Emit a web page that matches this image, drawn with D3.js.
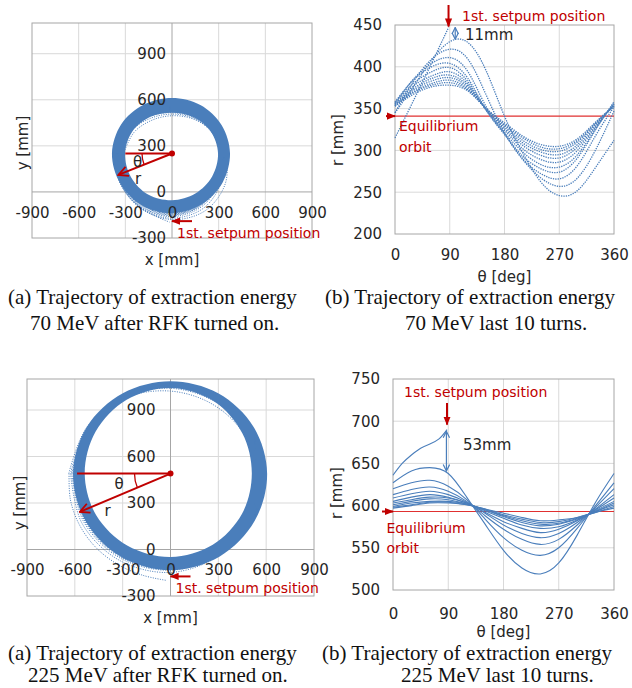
<!DOCTYPE html>
<html>
<head>
<meta charset="utf-8">
<script src="https://cdn.jsdelivr.net/npm/d3@7"></script>
<style>
  body { margin: 0; background: #fff; }
  svg { display: block; }
</style>
</head>
<body>
<svg id="chart" width="632" height="688"></svg>
<script>
// ---- values ----
const xyTicksX = [-900, -600, -300, 0, 300, 600, 900];
const xyTicksY = [-300, 0, 300, 600, 900];
const thetaTicks = [0, 90, 180, 270, 360];
const rTicks70 = [200, 250, 300, 350, 400, 450];
const rTicks225 = [500, 550, 600, 650, 700, 750];

// r [mm] of the last full turns, sampled every 30 deg (smallest turn first)
const thetaSamples = [0, 30, 60, 90, 120, 150, 180, 210, 240, 270, 300, 330, 360];
const turns70 = [
  [353, 367, 376, 378, 371, 350, 333, 317, 307, 305, 314, 334, 353],
  [353, 369, 378, 381, 372, 350, 331, 315, 304, 302, 312, 333, 353],
  [353, 370, 380, 384, 373, 350, 330, 312, 301, 299, 310, 332, 353],
  [354, 372, 383, 387, 375, 349, 328, 309, 298, 295, 307, 331, 354],
  [355, 374, 386, 390, 377, 349, 326, 306, 294, 291, 304, 329, 355],
  [355, 377, 389, 394, 379, 348, 324, 302, 289, 286, 300, 328, 355],
  [357, 380, 394, 399, 382, 348, 321, 298, 283, 280, 295, 326, 357],
  [358, 384, 400, 404, 386, 348, 319, 293, 278, 274, 291, 325, 358],
  [356, 385, 404, 411, 394, 352, 320, 290, 272, 266, 282, 318, 352],
  [345, 382, 409, 421, 409, 366, 321, 289, 267, 257, 267, 301, 347],
  [345, 376, 408, 430, 429, 395, 341, 297, 262, 246, 252, 280, 312]
];
// partial last turn up to the 1st septum: [theta, r]
const lastTurn70 = [[0, 315], [30, 359], [60, 404], [88, 447]];

const turns225 = [
  [597, 600, 603, 603, 601, 596, 591, 586, 582, 583, 586, 592, 597],
  [598, 601, 604, 604, 601, 596, 589, 584, 580, 581, 586, 592, 599],
  [599, 603, 605, 605, 602, 595, 588, 582, 578, 579, 585, 593, 601],
  [601, 605, 608, 607, 602, 595, 587, 580, 576, 578, 584, 593, 603],
  [603, 607, 610, 609, 603, 594, 585, 577, 573, 575, 583, 594, 605],
  [605, 610, 613, 610, 603, 592, 581, 573, 568, 572, 582, 595, 609],
  [609, 614, 617, 613, 604, 591, 577, 567, 562, 567, 580, 596, 613],
  [613, 619, 622, 617, 605, 588, 572, 560, 554, 560, 577, 598, 620],
  [620, 627, 630, 623, 607, 584, 562, 547, 541, 550, 573, 600, 627],
  [627, 641, 645, 638, 610, 578, 547, 526, 519, 532, 565, 604, 638]
];
const lastTurn225 = [[0, 636], [15, 650], [30, 660], [45, 668], [60, 673], [75, 679], [88, 690]];

const equilibrium70 = 341;
const equilibrium225 = 593;

// envelope of all turns after RFK on (theta from -x axis, turning downwards)
const ringAngles = [0, 30, 60, 90, 120, 150, 180, 210, 240, 270, 300, 330];
const ringOuter70 = [386, 386, 388, 388, 382, 376, 373, 369, 365, 362, 366, 378];
const ringInner70 = [302, 305, 308, 304, 300, 298, 296, 288, 274, 266, 276, 292];
const ringOuter225 = [611, 614, 620, 624, 618, 610, 606, 602, 598, 595, 598, 605];
const ringInner225 = [538, 538, 538, 538, 530, 518, 510, 520, 540, 552, 550, 542];
const orbitCentre70 = [0, 250];
const orbitCentre225 = [0, 490];
const rArrow70 = [22, 372];   // [theta deg, r mm]
const rArrow225 = [23.5, 620];

const captions = [
  { x: 8, y: 304, text: '(a) Trajectory of extraction energy' },
  { x: 30, y: 330, text: '70 MeV after RFK turned on.' },
  { x: 325, y: 304, text: '(b) Trajectory of extraction energy' },
  { x: 405, y: 330, text: '70 MeV last 10 turns.' },
  { x: 8, y: 660, text: '(a) Trajectory of extraction energy' },
  { x: 28, y: 682, text: '225 MeV after RFK turned on.' },
  { x: 322, y: 660, text: '(b) Trajectory of extraction energy' },
  { x: 401, y: 682, text: '225 MeV last 10 turns.' }
];

// ---- drawing ----
const BLUE = '#4a7ebb', RED = '#c00000', GRID = '#d9d9d9', FRAME = '#a6a6a6', INK = '#262626';
const SANS = "'DejaVu Sans', Verdana, sans-serif";
const SERIF = "'Liberation Serif', 'Times New Roman', serif";

const svg = d3.select('#chart');
const defs = svg.append('defs');

function addMarker(id, color, open, size) {
  const m = defs.append('marker')
    .attr('id', id)
    .attr('viewBox', '0 0 10 10')
    .attr('refX', 9)
    .attr('refY', 5)
    .attr('markerWidth', size)
    .attr('markerHeight', size)
    .attr('markerUnits', 'userSpaceOnUse')
    .attr('orient', 'auto-start-reverse');
  if (open) {
    m.append('path').attr('d', 'M1,1 L9,5 L1,9').attr('fill', 'none')
      .attr('stroke', color).attr('stroke-width', 1.5);
  } else {
    m.append('path').attr('d', 'M0,1 L10,5 L0,9 Z').attr('fill', color);
  }
}
addMarker('redHead', RED, false, 9);
addMarker('redOpen', RED, true, 12);
addMarker('blueOpen', BLUE, true, 8);

const plain = d => String(d);  // keep ASCII hyphen for negatives

function styleAxis(g) {
  g.select('.domain').remove();
  g.attr('font-family', SANS).attr('font-size', 15).attr('color', INK);
}

function addText(g, x, y, txt, opts = {}) {
  return g.append('text')
    .attr('x', x).attr('y', y).attr('dy', '0.35em')
    .attr('font-family', SANS)
    .attr('font-size', opts.size || 14)
    .attr('fill', opts.color || INK)
    .attr('text-anchor', opts.anchor || 'start')
    .text(txt);
}

// x-y trajectory panel
function drawRingPanel(p) {
  const x = d3.scaleLinear().domain([-900, 900]).range([p.left, p.right]);
  const y = d3.scaleLinear().domain([-300, 1100]).range([p.bottom, p.top]);
  const g = svg.append('g');
  const polar = (deg, r) => {
    const a = deg * Math.PI / 180;
    return [p.centre[0] - r * Math.cos(a), p.centre[1] - r * Math.sin(a)];
  };

  // grid
  g.selectAll('.vg').data(xyTicksX.filter(d => d !== 0 && Math.abs(d) !== 900)).join('line')
    .attr('x1', d => x(d)).attr('x2', d => x(d))
    .attr('y1', p.top).attr('y2', p.bottom)
    .attr('stroke', GRID);
  g.selectAll('.hg').data(xyTicksY.filter(d => d > 0)).join('line')
    .attr('x1', p.left).attr('x2', p.right)
    .attr('y1', d => y(d)).attr('y2', d => y(d))
    .attr('stroke', GRID);
  g.append('rect')
    .attr('x', p.left).attr('y', p.top)
    .attr('width', p.right - p.left).attr('height', p.bottom - p.top)
    .attr('fill', 'none').attr('stroke', FRAME);
  g.append('line').attr('x1', x(0)).attr('x2', x(0)).attr('y1', p.top).attr('y2', p.bottom).attr('stroke', FRAME);
  g.append('line').attr('x1', p.left).attr('x2', p.right).attr('y1', y(0)).attr('y2', y(0)).attr('stroke', FRAME);

  // dense band of turns
  const closed = d3.line().x(d => x(d[0])).y(d => y(d[1])).curve(d3.curveCardinalClosed);
  const outer = ringAngles.map((a, i) => polar(a, p.outer[i]));
  const inner = ringAngles.map((a, i) => polar(a, p.inner[i]));
  g.append('path')
    .attr('d', closed(outer) + closed(inner))
    .attr('fill', BLUE).attr('fill-rule', 'evenodd');

  // the last turns, dotted
  const open = d3.line().x(d => x(d[0])).y(d => y(d[1])).curve(d3.curveCatmullRom);
  const turnPts = p.turns.map(t => thetaSamples.map((th, i) => polar(th, t[i])));
  turnPts.push(p.last.map(d => polar(d[0], d[1])));
  g.append('g').selectAll('path').data(turnPts).join('path')
    .attr('d', open)
    .attr('fill', 'none').attr('stroke', BLUE)
    .attr('stroke-width', 1).attr('stroke-dasharray', '1 1.4');

  // theta / r annotation
  const cx = x(p.centre[0]), cy = y(p.centre[1]);
  const hEnd = polar(0, p.hLine);
  g.append('line').attr('x1', cx).attr('y1', cy).attr('x2', x(hEnd[0])).attr('y2', y(hEnd[1]))
    .attr('stroke', RED).attr('stroke-width', 2);
  const tip = polar(p.rArrow[0], p.rArrow[1]);
  g.append('line').attr('x1', cx).attr('y1', cy).attr('x2', x(tip[0])).attr('y2', y(tip[1]))
    .attr('stroke', RED).attr('stroke-width', 2).attr('marker-end', 'url(#redOpen)');
  const ang = Math.atan2(y(tip[1]) - cy, cx - x(tip[0]));
  const R = p.arcR;
  g.append('path')
    .attr('d', `M${cx - R},${cy} A${R},${R} 0 0 0 ${cx - R * Math.cos(ang)},${cy + R * Math.sin(ang)}`)
    .attr('fill', 'none').attr('stroke', RED).attr('stroke-width', 1.3);
  g.append('circle').attr('cx', cx).attr('cy', cy).attr('r', 3).attr('fill', RED);
  addText(g, cx + p.thetaLab[0], cy + p.thetaLab[1], 'θ', { size: 15 });
  addText(g, cx + p.rLab[0], cy + p.rLab[1], 'r', { size: 15 });

  // septum arrow
  const sept = polar(p.last[p.last.length - 1][0], p.last[p.last.length - 1][1]);
  const sy = y(sept[1]) + p.septDy;
  g.append('line').attr('x1', x(0) + 20).attr('y1', sy).attr('x2', x(0)).attr('y2', sy)
    .attr('stroke', RED).attr('stroke-width', 2).attr('marker-end', 'url(#redHead)');
  addText(g, x(0) + 5, sy + 11.5, '1st. setpum position', { color: RED });

  // ticks
  g.append('g').attr('transform', `translate(${x(0)},0)`)
    .call(d3.axisLeft(y).tickValues(xyTicksY).tickFormat(plain).tickSize(0).tickPadding(p.yPad))
    .call(styleAxis);
  g.append('g').attr('transform', `translate(0,${y(0)})`)
    .call(d3.axisBottom(x).tickValues(xyTicksX).tickFormat(plain).tickSize(0).tickPadding(15))
    .call(styleAxis);

  addText(g, (p.left + p.right) / 2, p.xTitleY, 'x [mm]', { size: 15, anchor: 'middle' });
  g.append('text')
    .attr('transform', `translate(${p.yTitleX},${p.yTitleY}) rotate(-90)`)
    .attr('dy', '0.35em')
    .attr('font-family', SANS).attr('font-size', 15).attr('fill', INK)
    .attr('text-anchor', 'middle').text('y [mm]');
}

// r-theta panel of the last turns
function drawThetaPanel(p) {
  const x = d3.scaleLinear().domain([0, 360]).range([p.left, p.right]);
  const y = d3.scaleLinear().domain([p.rTicks[0], p.rTicks[p.rTicks.length - 1]]).range([p.bottom, p.top]);
  const g = svg.append('g');

  g.selectAll('.vg').data(thetaTicks.slice(1, -1)).join('line')
    .attr('x1', d => x(d)).attr('x2', d => x(d))
    .attr('y1', p.top).attr('y2', p.bottom).attr('stroke', GRID);
  g.selectAll('.hg').data(p.rTicks.slice(1, -1)).join('line')
    .attr('x1', p.left).attr('x2', p.right)
    .attr('y1', d => y(d)).attr('y2', d => y(d)).attr('stroke', GRID);
  g.append('rect')
    .attr('x', p.left).attr('y', p.top)
    .attr('width', p.right - p.left).attr('height', p.bottom - p.top)
    .attr('fill', 'none').attr('stroke', FRAME);

  // equilibrium orbit
  g.append('line')
    .attr('x1', p.left).attr('x2', p.right)
    .attr('y1', y(p.eq)).attr('y2', y(p.eq))
    .attr('stroke', '#e03030').attr('stroke-width', 1.2);

  const line = d3.line().x(d => x(d[0])).y(d => y(d[1])).curve(d3.curveNatural);
  const series = p.turns.map(t => thetaSamples.map((th, i) => [th, t[i]]));
  series.push(p.last);
  g.append('g').selectAll('path').data(series).join('path')
    .attr('d', line)
    .attr('fill', 'none').attr('stroke', BLUE)
    .attr('stroke-width', p.lineW).attr('stroke-dasharray', p.dash);

  // equilibrium marker + label
  g.append('line').attr('x1', p.left - p.eqArrow).attr('x2', p.left)
    .attr('y1', y(p.eq)).attr('y2', y(p.eq))
    .attr('stroke', RED).attr('stroke-width', 2).attr('marker-end', 'url(#redHead)');
  addText(g, p.left + p.eqLab[0], y(p.eq) + p.eqLab[1], 'Equilibrium', { color: RED });
  addText(g, p.left + p.eqLab[0], y(p.eq) + p.eqLab[1] + p.eqLab[2], 'orbit', { color: RED });

  // septum arrow, gap arrow
  const end = p.last[p.last.length - 1];
  const sx = x(end[0]);
  g.append('line').attr('x1', sx).attr('x2', sx)
    .attr('y1', p.septTop).attr('y2', y(end[1]) - p.septGap)
    .attr('stroke', RED).attr('stroke-width', 2).attr('marker-end', 'url(#redHead)');
  addText(g, p.septLab[0], p.septLab[1], '1st. setpum position', { color: RED });
  const gx = x(p.gap[0]);
  g.append('line').attr('x1', gx).attr('x2', gx)
    .attr('y1', y(p.gap[1])).attr('y2', y(p.gap[2]))
    .attr('stroke', BLUE).attr('stroke-width', 1.2)
    .attr('marker-start', 'url(#blueOpen)').attr('marker-end', 'url(#blueOpen)');
  addText(g, p.gapLab[0], p.gapLab[1], p.gapText, { size: 15 });

  g.append('g').attr('transform', `translate(${p.left},0)`)
    .call(d3.axisLeft(y).tickValues(p.rTicks).tickFormat(plain).tickSize(0).tickPadding(13))
    .call(styleAxis);
  g.append('g').attr('transform', `translate(0,${p.bottom})`)
    .call(d3.axisBottom(x).tickValues(thetaTicks).tickFormat(plain).tickSize(0).tickPadding(p.xPad))
    .call(styleAxis);

  addText(g, (p.left + p.right) / 2, p.xTitleY, 'θ [deg]', { size: 15, anchor: 'middle' });
  g.append('text')
    .attr('transform', `translate(${p.yTitleX},${p.yTitleY}) rotate(-90)`)
    .attr('dy', '0.35em')
    .attr('font-family', SANS).attr('font-size', 15).attr('fill', INK)
    .attr('text-anchor', 'middle').text('r [mm]');
}

drawRingPanel({
  left: 32, right: 312, top: 23, bottom: 238,
  centre: orbitCentre70, outer: ringOuter70, inner: ringInner70,
  turns: turns70, last: lastTurn70,
  hLine: 300, rArrow: rArrow70, arcR: 30,
  thetaLab: [-39, 8], rLab: [-37, 25], septDy: -1,
  yPad: 6, xTitleY: 260, yTitleX: 23, yTitleY: 143
});

drawThetaPanel({
  left: 395, right: 614, top: 25, bottom: 234,
  rTicks: rTicks70, eq: equilibrium70,
  turns: turns70, last: lastTurn70,
  lineW: 1.3, dash: '1.3 1.1',
  eqArrow: 9, eqLab: [4, 10, 21],
  septTop: 5, septGap: 1, septLab: [462, 16.5],
  gap: [99, 447, 433], gapLab: [465, 35], gapText: '11mm',
  xPad: 15, xTitleY: 277, yTitleX: 338, yTitleY: 140
});

drawRingPanel({
  left: 27, right: 314, top: 379, bottom: 596,
  centre: orbitCentre225, outer: ringOuter225, inner: ringInner225,
  turns: turns225, last: lastTurn225,
  hLine: 586, rArrow: rArrow225, arcR: 36,
  thetaLab: [-56, 10], rLab: [-66, 37], septDy: -4,
  yPad: 15, xTitleY: 618, yTitleX: 20, yTitleY: 503
});

drawThetaPanel({
  left: 393, right: 614, top: 379, bottom: 590,
  rTicks: rTicks225, eq: equilibrium225,
  turns: turns225, last: lastTurn225,
  lineW: 1.1, dash: null,
  eqArrow: 11, eqLab: [-6.6, 17, 20],
  septTop: 403, septGap: 5, septLab: [404, 391.7],
  gap: [87, 688, 641], gapLab: [463, 445], gapText: '53mm',
  xPad: 18, xTitleY: 632, yTitleX: 337, yTitleY: 493
});

// figure captions
svg.append('g').selectAll('text').data(captions).join('text')
  .attr('x', d => d.x).attr('y', d => d.y)
  .attr('font-family', SERIF).attr('font-size', 21).attr('fill', '#111')
  .text(d => d.text);
</script>
</body>
</html>
